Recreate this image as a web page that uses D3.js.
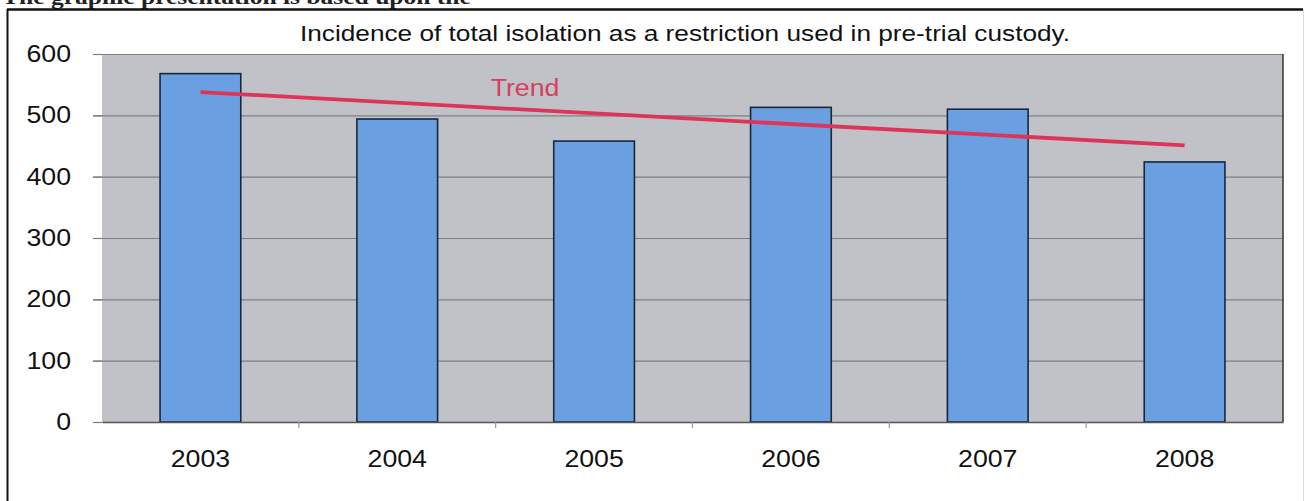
<!DOCTYPE html>
<html><head><meta charset="utf-8">
<script src="https://cdn.jsdelivr.net/npm/d3@7"></script>
<style>
html,body{margin:0;padding:0;background:#fff;}
svg{display:block;}
</style></head>
<body>
<script>
// ---- data ----
const years = ["2003","2004","2005","2006","2007","2008"];
const values = [568, 494, 458, 513, 510, 424];
const trendYears = ["2003","2008"];
const trendValues = [538, 451];
const yTicks = [0,100,200,300,400,500,600];
const titleText = "Incidence of total isolation as a restriction used in pre-trial custody.";
const headerText = "The graphic presentation is based upon the";
const trendLabel = "Trend";

const W = 1306, H = 501;
const m = {left:102, top:54, right:23, bottom:79};
const pw = W - m.left - m.right, ph = H - m.top - m.bottom;

const svg = d3.select("body").append("svg").attr("width",W).attr("height",H);
const font = "Liberation Sans, Arial, sans-serif";
const stretch = sel => sel.each(function(){ const l=this.getComputedTextLength(); d3.select(this).attr("textLength", l*1.16).attr("lengthAdjust","spacingAndGlyphs"); });

// cut-off header text above box
svg.append("text").attr("x",2).attr("y",4)
  .attr("font-family","Liberation Serif, Times New Roman, serif").attr("font-weight","bold")
  .attr("font-size",22).attr("fill","#222").text(headerText).call(stretch);

// outer box
svg.append("line").attr("x1",7).attr("x2",1303).attr("y1",9.5).attr("y2",9.5).attr("stroke","#111").attr("stroke-width",2.5);
svg.append("line").attr("x1",7.5).attr("x2",7.5).attr("y1",9).attr("y2",H).attr("stroke","#111").attr("stroke-width",2);
svg.append("line").attr("x1",1303.5).attr("x2",1303.5).attr("y1",9).attr("y2",H).attr("stroke","#ddd").attr("stroke-width",1);

// title
svg.append("text").attr("x",685).attr("y",41).attr("text-anchor","middle")
  .attr("font-family",font).attr("font-size",22).attr("fill","#111").text(titleText)
  .attr("textLength",770).attr("lengthAdjust","spacingAndGlyphs");

const x = d3.scaleBand().domain(years).range([m.left, m.left+pw]).paddingInner(0.59).paddingOuter(0.295);
const xb = d3.scaleBand().domain(years).range([m.left, m.left+pw]);
const y = d3.scaleLinear().domain([0,600]).range([m.top+ph, m.top]);

// plot background
svg.append("rect").attr("x",m.left).attr("y",m.top).attr("width",pw).attr("height",ph).attr("fill","#c0c2c7");

// gridlines
svg.append("g").selectAll("line").data(yTicks.filter(d=>d>0)).join("line")
  .attr("x1",m.left-9).attr("x2",m.left+pw)
  .attr("y1",d=>y(d)+0.5).attr("y2",d=>y(d)+0.5)
  .attr("stroke","#7d7f84").attr("stroke-width",1.2);

// y axis
const ya = svg.append("g").attr("transform",`translate(${m.left},0)`)
  .call(d3.axisLeft(y).tickValues(yTicks).tickSize(9).tickPadding(22));
ya.select(".domain").remove();
ya.selectAll(".tick line").attr("stroke","#7d7f84").attr("stroke-width",1.2);
ya.selectAll("text").attr("font-family",font).attr("font-size",23).attr("fill","#111").call(stretch);

// bars
svg.append("g").selectAll("rect").data(years).join("rect")
  .attr("x",d=>x(d)).attr("width",x.bandwidth())
  .attr("y",(d,i)=>y(values[i])).attr("height",(d,i)=>y(0)-y(values[i]))
  .attr("fill","#6a9fe2").attr("stroke","#17283a").attr("stroke-width",1.6);

// right plot border
svg.append("line").attr("x1",m.left+pw).attr("x2",m.left+pw).attr("y1",m.top).attr("y2",m.top+ph)
  .attr("stroke","#333").attr("stroke-width",1.5);

// x axis
const xa = svg.append("g").attr("transform",`translate(0,${m.top+ph})`)
  .call(d3.axisBottom(x).tickSize(0).tickPadding(29));
xa.select(".domain").attr("stroke","#555").attr("stroke-width",1.6);
xa.selectAll("text").attr("font-family",font).attr("font-size",23).attr("fill","#111").call(stretch);
// x tick marks at category boundaries
svg.append("g").selectAll("line").data(years.slice(1)).join("line")
  .attr("x1",d=>xb(d)).attr("x2",d=>xb(d))
  .attr("y1",m.top+ph).attr("y2",m.top+ph+6).attr("stroke","#999").attr("stroke-width",1.2);

// trend
const line = d3.line().x(d=>x(d[0])+x.bandwidth()/2).y(d=>y(d[1]));
svg.append("path").datum(trendYears.map((d,i)=>[d,trendValues[i]]))
  .attr("d",line).attr("fill","none").attr("stroke","#dc3558").attr("stroke-width",3.8);
svg.append("text").attr("x",525).attr("y",96).attr("text-anchor","middle")
  .attr("font-family",font).attr("font-size",23).attr("fill","#d6405c").text(trendLabel).call(stretch);
</script>
</body></html>
